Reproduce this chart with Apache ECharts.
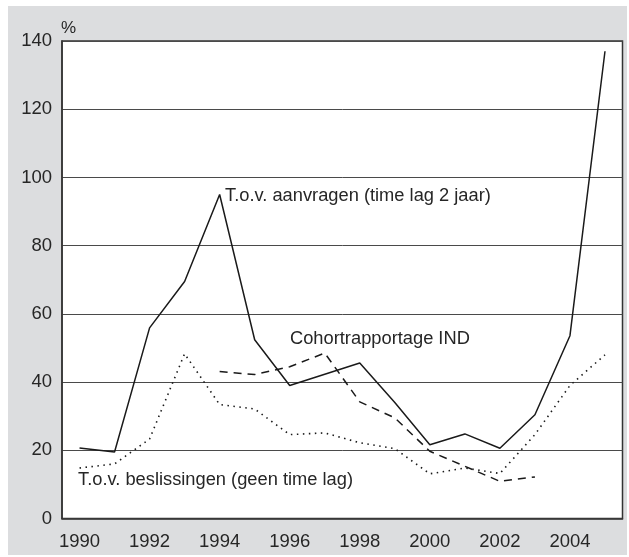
<!DOCTYPE html>
<html>
<head>
<meta charset="utf-8">
<script src="https://cdn.jsdelivr.net/npm/echarts@6/dist/echarts.min.js"></script>
<style>
  html, body { margin: 0; padding: 0; background: #fff; }
  #chart { width: 629px; height: 557px; }
</style>
</head>
<body>
<div id="chart"></div>
<script>
// jaren op de x-as
const years = ["1990", "1991", "1992", "1993", "1994", "1995", "1996", "1997",
  "1998", "1999", "2000", "2001", "2002", "2003", "2004", "2005"];

// T.o.v. aanvragen (time lag 2 jaar)
const aanvragen = [20.7, 19.5, 55.9, 69.5, 95.0, 52.4, 39.0, 42.3,
  45.6, 34.0, 21.6, 24.8, 20.6, 30.4, 53.6, 137.0];

// Cohortrapportage IND
const cohort = [null, null, null, null, 43.1, 42.2, 44.5, 48.5,
  34.2, 29.5, 19.7, 15.3, 10.9, 12.2, null, null];

// T.o.v. beslissingen (geen time lag)
const beslissingen = [14.8, 16.0, 23.3, 48.3, 33.4, 32.1, 24.6, 25.1,
  22.2, 20.5, 13.1, 14.8, 13.2, 24.6, 39.0, 48.0];

const yMin = 0, yMax = 140, yStep = 20;

const chart = echarts.init(document.getElementById("chart"));
const font = "Liberation Sans, Arial, sans-serif";
const textCol = "#262626";
const lineCol = "#1a1a1a";

chart.setOption({
  animation: false,
  textStyle: { fontFamily: font },
  graphic: [
    {
      type: "rect", z: -10, silent: true,
      shape: { x: 8, y: 6, width: 619, height: 549 },
      style: { fill: "#dcdddf" }
    },
    {
      type: "text", left: 61, top: 20,
      style: { text: "%", fontSize: 17, fill: textCol, fontFamily: font }
    },
    {
      type: "text", left: 225, top: 187,
      style: { text: "T.o.v. aanvragen (time lag 2 jaar)", fontSize: 18.3, fill: textCol, fontFamily: font }
    },
    {
      type: "text", left: 290, top: 330,
      style: { text: "Cohortrapportage IND", fontSize: 18.3, fill: textCol, fontFamily: font }
    },
    {
      type: "text", left: 78, top: 471,
      style: { text: "T.o.v. beslissingen (geen time lag)", fontSize: 18.3, fill: textCol, fontFamily: font }
    }
  ],
  grid: {
    left: 62, top: 41, right: 6.5, bottom: 38.5,
    show: true, backgroundColor: "#fff", borderColor: "#333", borderWidth: 1.5
  },
  xAxis: {
    type: "category",
    data: years,
    boundaryGap: true,
    axisLine: { lineStyle: { color: "#333", width: 1.5 } },
    axisTick: { alignWithLabel: true, length: 5, lineStyle: { color: "#333" } },
    axisLabel: { interval: 1, fontSize: 18.5, color: textCol, margin: 14 },
    splitLine: { show: false }
  },
  yAxis: {
    type: "value",
    min: yMin, max: yMax, interval: yStep,
    axisLine: { show: true, lineStyle: { color: "#333", width: 1.5 } },
    axisTick: { show: false },
    axisLabel: { fontSize: 18.5, color: textCol, margin: 10 },
    splitLine: { lineStyle: { color: "#4a4a4a", width: 1 } }
  },
  series: [
    {
      name: "T.o.v. aanvragen (time lag 2 jaar)",
      type: "line", data: aanvragen, symbol: "none",
      lineStyle: { color: lineCol, width: 1.5 }
    },
    {
      name: "Cohortrapportage IND",
      type: "line", data: cohort, symbol: "none",
      lineStyle: { color: lineCol, width: 1.5, type: [8, 6] }
    },
    {
      name: "T.o.v. beslissingen (geen time lag)",
      type: "line", data: beslissingen, symbol: "none",
      lineStyle: { color: lineCol, width: 1.6, type: [1.5, 4.5] }
    }
  ]
});
</script>
</body>
</html>
